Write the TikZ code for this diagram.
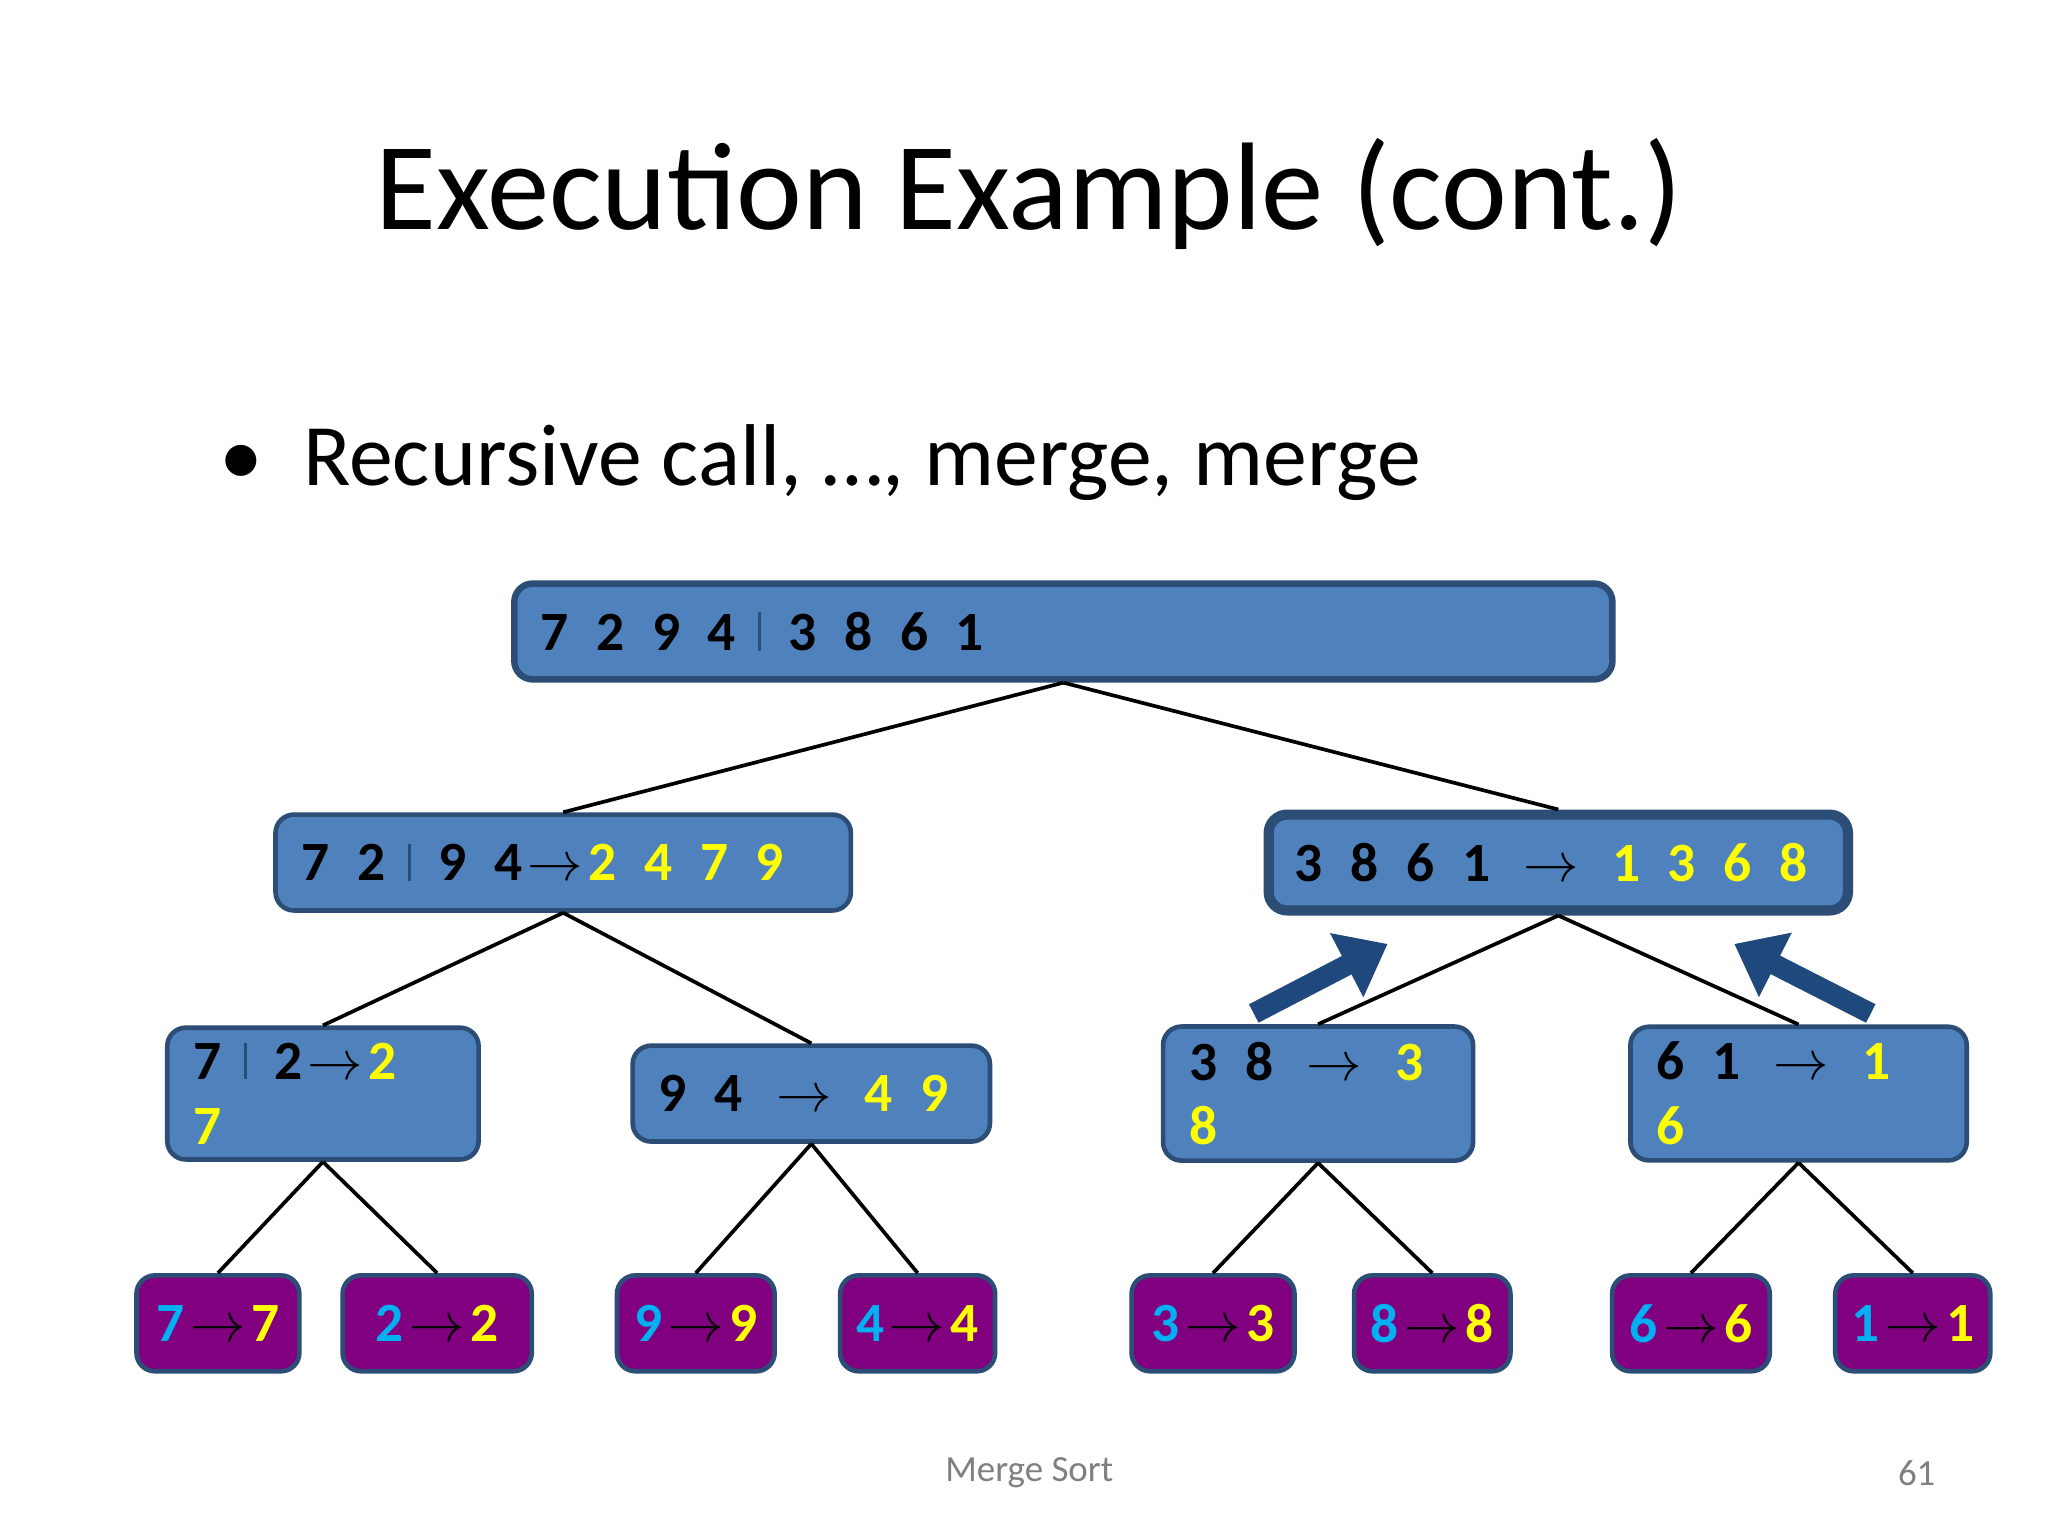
\documentclass[tikz,border=0pt]{standalone}
\usepackage{fontspec}
\setmainfont{Carlito}
\usetikzlibrary{arrows.meta}
\definecolor{boxblue}{HTML}{4F81BD}
\definecolor{boxline}{HTML}{2C4D75}
\definecolor{leafpurple}{HTML}{800080}
\definecolor{numcyan}{HTML}{00B0F0}
\definecolor{numyellow}{HTML}{FFFF00}
\definecolor{arrowblue}{HTML}{1F497D}
\newcommand*{\Y}[1]{\textcolor{numyellow}{#1}}
\newcommand*{\C}[1]{\textcolor{numcyan}{#1}}
\newcommand*{\gap}{\hspace{0.5em}}
\newcommand*{\splitbar}{\hspace{0.4em}\textcolor{boxline}{\vrule width 0.6pt}\hspace{0.5em}}
\newcommand*{\ra}{\hspace{0.1em}$\rightarrow$\hspace{0.1em}}
\tikzset{
  box/.style={draw=boxline, line width=1pt, rounded corners=4pt, fill=boxblue,
    minimum height=0.73cm, inner xsep=0.2cm, align=left,
    font=\fontsize{12}{14}\selectfont\bfseries},
  leaf/.style={box, fill=leafpurple, align=center, inner xsep=0pt},
  edge/.style={line width=0.8pt},
  hint/.style={line width=4.5pt, arrowblue, -{Triangle[length=10pt,width=15pt]}}
}
\begin{document}
\begin{tikzpicture}[x=0.01cm, y=-0.01cm]
		\fill[white] (0,0) rectangle (1560,1170);
		\useasboundingbox (0,0) rectangle (1560,1170);
		\node[font=\fontsize{27}{32}\selectfont] (title) at (784,148) {Execution Example (cont.)};
		\node[font=\fontsize{19}{23}\selectfont, anchor=west] (bullet) at (155,352) {\textbullet\ \ Recursive call, …, merge, merge};
		% tree of calls
		\node[box, text width=7.96cm, minimum width=8.36cm, line width=1.4pt] (root) at (810,481)
		  {7\gap 2\gap 9\gap 4\splitbar 3\gap 8\gap 6\gap 1};
		\node[box, text width=3.98cm, minimum width=4.38cm] (l) at (429,657)
		  {7\gap 2\splitbar 9\gap 4\ra\Y{2\gap 4\gap 7\gap 9}};
		\node[box, text width=4.01cm, minimum width=4.41cm, line width=2.2pt] (r) at (1187,657)
		  {3\gap 8\gap 6\gap 1\gap\ra\gap\Y{1\gap 3\gap 6\gap 8}};
		\node[box, text width=1.97cm, minimum width=2.37cm] (ll) at (246,833)
		  {7\splitbar 2\ra\Y{2\gap 7}};
		\node[box, text width=2.32cm, minimum width=2.72cm] (lr) at (618,833)
		  {9\gap 4\gap\ra\gap\Y{4\gap 9}};
		\node[box, text width=1.96cm, minimum width=2.36cm] (rl) at (1004,833)
		  {3\gap 8\gap\ra\gap\Y{3\gap 8}};
		\node[box, text width=2.16cm, minimum width=2.56cm] (rr) at (1370,833)
		  {6\gap 1\gap\ra\gap\Y{1\gap 6}};
		% leaves
		\node[leaf, minimum width=1.24cm] (a) at (166,1008) {\C{7}\ra\Y{7}};
		\node[leaf, minimum width=1.44cm] (b) at (333,1008) {\C{2}\ra\Y{2}};
		\node[leaf, minimum width=1.20cm] (c) at (530,1008) {\C{9}\ra\Y{9}};
		\node[leaf, minimum width=1.18cm] (d) at (699,1008) {\C{4}\ra\Y{4}};
		\node[leaf, minimum width=1.24cm] (e) at (924,1008) {\C{3}\ra\Y{3}};
		\node[leaf, minimum width=1.19cm] (f) at (1091,1008) {\C{8}\ra\Y{8}};
		\node[leaf, minimum width=1.20cm] (g) at (1288,1008) {\C{6}\ra\Y{6}};
		\node[leaf, minimum width=1.18cm] (h) at (1457,1008) {\C{1}\ra\Y{1}};
		\draw[edge] (root.south) -- (l.north);
		\draw[edge] (root.south) -- (r.north);
		\draw[edge] (l.south) -- (ll.north);
		\draw[edge] (l.south) -- (lr.north);
		\draw[edge] (r.south) -- (rl.north);
		\draw[edge] (r.south) -- (rr.north);
		\draw[edge] (ll.south) -- (a.north);
		\draw[edge] (ll.south) -- (b.north);
		\draw[edge] (lr.south) -- (c.north);
		\draw[edge] (lr.south) -- (d.north);
		\draw[edge] (rl.south) -- (e.north);
		\draw[edge] (rl.south) -- (f.north);
		\draw[edge] (rr.south) -- (g.north);
		\draw[edge] (rr.south) -- (h.north);
		% merge hints
		\coordinate (p1) at (955,772);
		\coordinate (q1) at (1057,719);
		\coordinate (p2) at (1425,772);
		\coordinate (q2) at (1321,719);
		\draw[hint] (p1) -- (q1);
		\draw[hint] (p2) -- (q2);
		% footer
		\node[font=\fontsize{8}{10}\selectfont, gray] (foot) at (784,1122) {Merge Sort};
		\node[font=\fontsize{8}{10}\selectfont, gray] (page) at (1460,1122) {61};
\end{tikzpicture}
\end{document}
